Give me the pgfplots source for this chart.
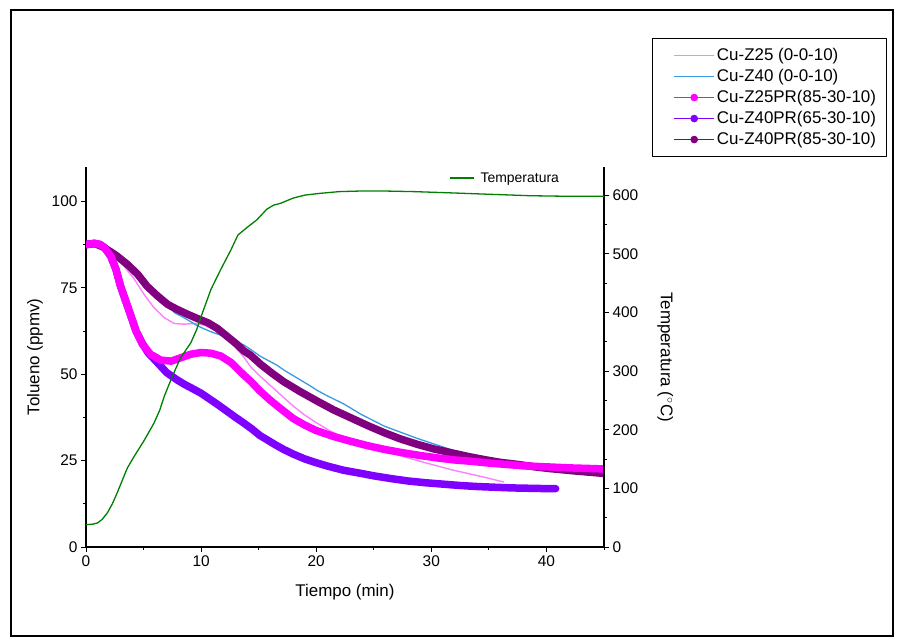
\documentclass[border=0pt]{standalone}
\usepackage{pgfplots}
\pgfplotsset{compat=1.18}
\usepackage{fontspec}
\setmainfont{Liberation Sans}
\definecolor{cpink}{HTML}{FF80FF}
\definecolor{cblue}{HTML}{3A9AE0}
\definecolor{cmag}{HTML}{FF00FF}
\definecolor{cviol}{HTML}{8000FF}
\definecolor{cpurp}{HTML}{800080}
\definecolor{cgreen}{HTML}{008000}

\pgfplotstableread{
x y
0 87.6
1.0 87.5
2.0 85.5
2.45 84.2
3.3 81.3
4.2 77.5
5.05 73.1
5.9 69.3
6.8 66.4
7.66 64.7
8.5 64.5
9.4 64.7
10.3 64.2
11.4 62.5
12.6 59.2
13.7 55.0
14.3 52.2
15.1 49.5
16.6 45.0
18.0 40.8
19.0 38.2
20.0 36.0
21.0 34.0
22.4 31.6
24.0 29.6
25.9 27.8
28.8 25.0
31.7 22.4
34.6 20.2
36.3 18.8
}\tabpink

\pgfplotstableread{
x y
0 87.6
1 87.7
2 86.5
3 84.0
4 80.5
5 77.0
6 73.5
7 70.3
7.7 67.8
8.5 66.4
9.7 64.0
10.85 62.3
12.0 61.0
13.7 58.5
14.3 57.2
15.1 55.3
16.6 52.6
17.2 51.2
18.0 49.6
19.5 46.6
20.1 45.3
21.0 43.7
22.4 41.4
23.0 40.2
23.9 38.4
25.9 35.0
28.8 31.4
31.7 28.2
34.6 25.0
35.8 23.9
38.0 23.3
41.0 22.9
45.0 22.5
}\tabblue

\pgfplotstableread{
x y
0 87.5
0.7 87.9
1.2 87.6
1.6 86.7
2.15 84.2
2.6 80.4
3.0 75.5
3.45 71.2
3.9 66.9
4.35 62.5
4.9 58.7
5.6 55.8
6.5 54.1
7.4 53.8
8.25 54.8
9.1 55.8
10.0 56.3
10.85 56.1
11.7 55.3
12.6 53.4
13.7 49.8
14.3 48.0
15.1 45.2
16.0 42.5
17.0 39.8
18.0 37.2
19.0 35.3
20.0 33.7
21.5 32.0
23.0 30.6
24.5 29.3
26.0 28.2
27.5 27.3
29.0 26.5
30.5 25.8
32.0 25.2
33.5 24.8
35.0 24.3
36.5 23.9
38.0 23.5
40.0 23.2
42.0 22.9
44.0 22.7
45.0 22.6
}\tabmag

\pgfplotstableread{
x y
0 87.5
0.7 87.9
1.2 87.6
1.6 86.7
2.15 84.2
2.6 80.4
3.0 75.5
3.45 71.2
3.9 66.9
4.35 62.5
4.9 58.9
5.4 56.2
6.2 53.4
7.0 50.5
7.9 48.4
8.6 47.0
9.4 45.6
10.0 44.5
10.8 42.7
11.5 41.1
12.25 39.3
13.0 37.5
13.7 35.9
14.4 34.2
15.1 32.3
16.0 30.5
16.6 29.3
17.2 28.2
18.0 26.9
19.0 25.5
20.0 24.4
21.0 23.4
22.4 22.2
23.9 21.3
25.0 20.6
26.5 19.8
28.0 19.1
29.5 18.6
31.0 18.2
32.5 17.8
34.0 17.5
35.5 17.3
37.0 17.1
38.5 17.0
40.0 16.9
40.8 16.9
}\tabviol

\pgfplotstableread{
x y
0 87.6
0.8 87.8
1.57 86.7
2.7 84.2
3.6 81.8
4.5 78.9
5.3 75.5
6.2 72.7
7.1 70.2
7.9 68.8
8.8 67.4
9.7 66.1
10.6 64.9
11.4 63.3
12.25 61.0
13.1 58.7
13.7 56.8
14.3 55.5
15.2 52.8
16.2 50.2
17.2 47.8
18.6 45.0
20.1 42.2
21.5 39.7
23.0 37.4
24.5 35.1
25.9 33.1
27.3 31.3
28.8 29.7
30.2 28.4
31.7 27.3
33.2 26.2
34.6 25.3
36.0 24.5
37.5 23.9
39.0 23.2
40.3 22.7
42.5 22.0
45.0 21.3
}\tabpurp

\pgfplotstableread{
x T
0 38
0.6 39
1.0 41
1.4 47
1.85 58
2.3 74
2.7 92
3.2 116
3.6 135
4.2 155
5.0 180
5.9 211
6.4 233
6.8 257
7.5 291
8.2 322
9.1 348
9.6 370
10.0 393
10.85 439
11.7 473
12.6 507
13.2 532
14.0 545
14.85 558
15.7 576
16.3 583
16.9 586
18.0 595
19.0 600
20.3 603
22.0 606
23.8 607
26.0 607
28.5 606
31.5 604
34.3 602
38.6 599
42.0 598
45 598
}\tabtemp

\pgfplotsset{
  common/.style={
    at={(0bp,0bp)}, anchor=south west,
    scale only axis, width=518bp, height=380bp,
    xmin=0, xmax=45,
    axis line style={-, line width=1.2bp, black},
    tick align=outside,
    major tick length=5bp, minor tick length=3bp,
    tick style={black, line width=1bp},
    /pgf/number format/assume math mode=true,
    tick label style={font=\fontsize{15.5}{18}\selectfont},
    label style={font=\fontsize{17}{20}\selectfont},
  },
  thin line legend/.style={legend image code/.code={\path (0bp,0bp); \draw[line width=1.3bp] (13bp,0bp) -- (53bp,0bp);}},
  dot line legend/.style={legend image code/.code={\path (0bp,0bp); \draw[line width=1.5bp] (13bp,0bp) -- (53bp,0bp); \fill (33bp,0bp) circle (3.3bp);}},
  band/.style={line width=7.5bp, line cap=round, line join=round, no marks},
}

\begin{document}
\begin{tikzpicture}
\useasboundingbox (-86bp,-94bp) rectangle (812bp,547bp);
\draw[line width=1.2bp] (-75bp,-89bp) rectangle (807bp,537bp);

\begin{axis}[common,
  ymin=0, ymax=110,
  axis x line*=bottom, axis y line*=left,
  xtick={0,10,20,30,40}, minor xtick={5,15,25,35,45},
  ytick={0,25,50,75,100}, minor ytick={12.5,37.5,62.5,87.5},
  xlabel={Tiempo (min)}, ylabel={Tolueno (ppmv)},
  xlabel style={at={(axis description cs:0.5,-0.118)}, anchor=center},
  ylabel style={at={(axis description cs:-0.0985,0.5)}, anchor=center},
  legend cell align=left,
  legend style={at={(1.0927,1.339)}, anchor=north west, draw=black, line width=1bp,
    font=\fontsize{17}{20}\selectfont, inner xsep=8bp, inner ysep=8bp, row sep=3.25bp},
  line join=round,
]
\addplot[color=cpink, line width=1.4bp, thin line legend] table[x=x,y=y] {\tabpink};
\addlegendentry{Cu-Z25 (0-0-10)}
\addplot[color=cblue, line width=1.3bp, thin line legend] table[x=x,y=y] {\tabblue};
\addlegendentry{Cu-Z40 (0-0-10)}
\addplot[color=cpurp, band, forget plot] table[x=x,y=y] {\tabpurp};
\addplot[color=cviol, band, forget plot] table[x=x,y=y] {\tabviol};
\addplot[color=cmag, band, forget plot] table[x=x,y=y] {\tabmag};
\addlegendimage{color=cmag, dot line legend}
\addlegendentry{Cu-Z25PR(85-30-10)}
\addlegendimage{color=cviol, dot line legend}
\addlegendentry{Cu-Z40PR(65-30-10)}
\addlegendimage{color=cpurp, dot line legend}
\addlegendentry{Cu-Z40PR(85-30-10)}
\end{axis}

\begin{axis}[common,
  ymin=0, ymax=648,
  axis x line=none, axis y line*=right,
  ytick={0,100,...,600}, minor ytick={50,150,...,550},
  ylabel={Temperatura ($^\circ$C)},
  ylabel style={at={(axis description cs:1.118,0.5)}, anchor=center, rotate=180},
  legend style={at={(0.701,0.971)}, anchor=west, draw=none, fill=none,
    font=\fontsize{14}{16}\selectfont, inner xsep=0bp, inner ysep=0bp},
  line join=round,
]
\addplot[color=cgreen, line width=1.3bp, legend image code/.code={\path (0bp,0bp) (28bp,0bp); \draw[line width=1.3bp] (0bp,0bp) -- (24bp,0bp);}] table[x=x,y=T] {\tabtemp};
\addlegendentry{Temperatura}
\end{axis}
\end{tikzpicture}
\end{document}
